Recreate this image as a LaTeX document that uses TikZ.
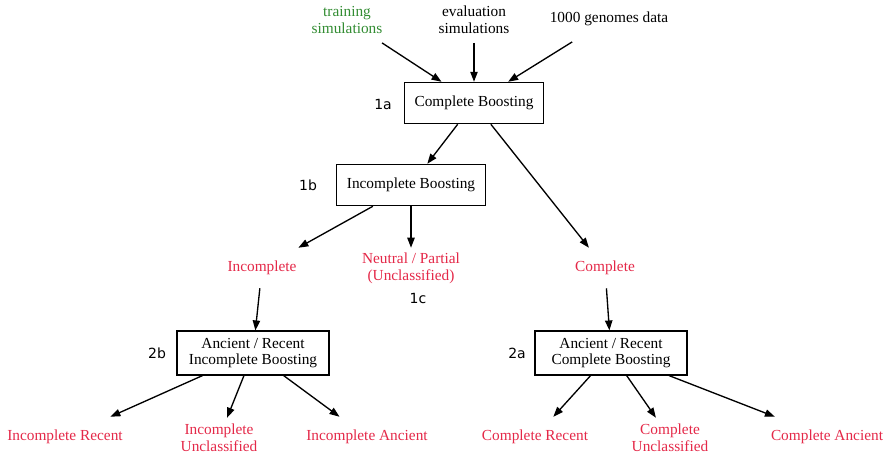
\documentclass[tikz,border=0pt]{standalone}
\usepackage{fontspec}
\setmainfont{Liberation Serif}
\newfontfamily\labfont{DejaVu Sans}
\usetikzlibrary{arrows.meta}
\definecolor{outred}{RGB}{228,40,72}
\definecolor{ingreen}{RGB}{50,140,50}
\tikzset{
  txt/.style={font=\fontsize{11.5}{12.5}\selectfont, align=center, minimum height=30pt, inner xsep=3pt, inner ysep=3pt},
  outtxt/.style={txt, text=outred},
  boxnode/.style={draw, line width=0.85pt, font=\fontsize{11.5}{12.5}\selectfont, align=center, inner xsep=7pt, inner ysep=3pt},
  tag/.style={font=\labfont\fontsize{10.5}{12}\selectfont},
  arr/.style={line width=1pt, -{Triangle[length=7.5pt,width=5.5pt]}}
}
\begin{document}
\begin{tikzpicture}[x=0.75pt,y=-0.75pt]
\useasboundingbox (0,0) rectangle (888,455);
% inputs
\node[txt, text=ingreen, minimum height=34pt] (train) at (347,20) {training\\simulations};
\node[txt, minimum height=34pt] (evals) at (474,20) {evaluation\\simulations};
\node[txt, minimum height=34pt] (kg) at (609,19) {1000 genomes data};
% boxes
\node[boxnode, minimum width=104pt, minimum height=31pt] (cb) at (474,103) {Complete Boosting};
\node[boxnode, minimum width=112pt, minimum height=31pt] (ib) at (411,185) {Incomplete Boosting};
\node[boxnode, minimum width=114pt, minimum height=33pt] (ab) at (253,353) {Ancient / Recent\\Incomplete Boosting};
\node[boxnode, minimum width=114pt, minimum height=33pt] (ac) at (611,353) {Ancient / Recent\\Complete Boosting};
% tags
\node[tag] (t1a) at (383,104) {1a};
\node[tag] (t1b) at (308,185) {1b};
\node[tag] (t1c) at (418,298) {1c};
\node[tag] (t2b) at (157,353) {2b};
\node[tag] (t2a) at (517,353) {2a};
% outcomes
\node[outtxt] (inc) at (262,268) {Incomplete};
\node[outtxt] (neu) at (411,268) {Neutral / Partial\\(Unclassified)};
\node[outtxt] (com) at (605,268) {Complete};
\node[outtxt] (ir) at (65,437) {Incomplete Recent};
\node[outtxt] (iu) at (219,438) {Incomplete\\Unclassified};
\node[outtxt] (ia) at (367,437) {Incomplete Ancient};
\node[outtxt] (cr) at (535,437) {Complete Recent};
\node[outtxt] (cu) at (670,438) {Complete\\Unclassified};
\node[outtxt] (ca) at (827,437) {Complete Ancient};
% edges
\draw[arr] (train) -- (cb);
\draw[arr] (evals) -- (cb);
\draw[arr] (kg) -- (cb);
\draw[arr] (cb) -- (ib);
\draw[arr] (cb) -- (com);
\draw[arr] (ib) -- (inc);
\draw[arr] (ib) -- (neu);
\draw[arr] (inc) -- (ab);
\draw[arr] (com) -- (ac);
\draw[arr] (ab) -- (ir);
\draw[arr] (ab) -- (iu);
\draw[arr] (ab) -- (ia);
\draw[arr] (ac) -- (cr);
\draw[arr] (ac) -- (cu);
\draw[arr] (ac) -- (ca);
\end{tikzpicture}
\end{document}
